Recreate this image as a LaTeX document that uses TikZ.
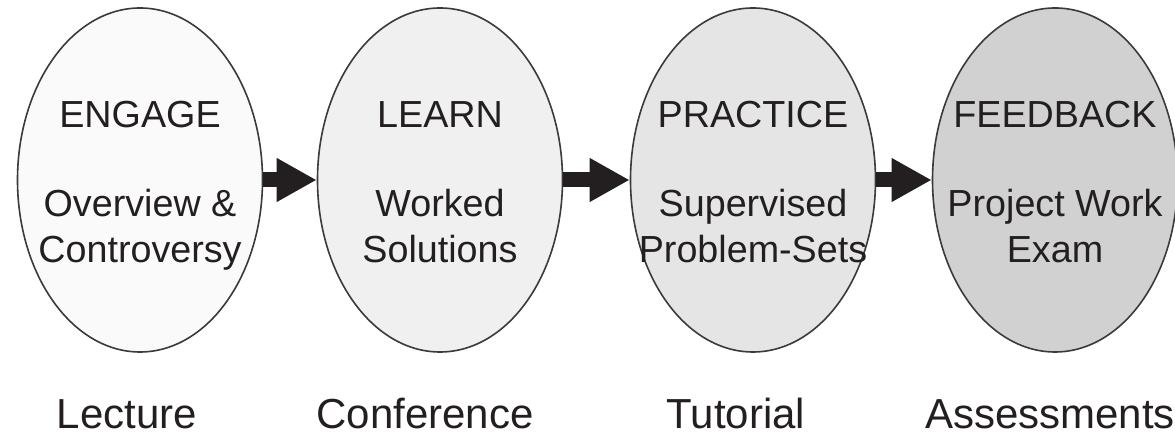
\documentclass[tikz,border=0pt]{standalone}
\usepackage{fontspec}
\setmainfont{Liberation Sans}
\usepackage{tikz}
\usetikzlibrary{arrows.meta,shapes.geometric,positioning}
\definecolor{inkgray}{HTML}{231F20}
\definecolor{rimgray}{HTML}{3A3A3A}

\begin{document}
\begin{tikzpicture}[
    x=1pt, y=1pt,
    stage style/.style={ellipse, draw=rimgray, line width=1.6pt, minimum width=245pt, minimum height=344pt, inner sep=0pt},
    head style/.style={anchor=base, text=inkgray, inner sep=0pt, font=\fontsize{37.7}{46}\selectfont},
    body style/.style={head style, align=center},
    place style/.style={anchor=base, text=inkgray, inner sep=0pt, font=\fontsize{42}{50}\selectfont},
    flow arrow/.style={draw=inkgray, line width=15pt, -{Triangle[length=40pt,width=41pt]}}
]
\useasboundingbox (0,0) rectangle (1175,438);
% the four stages
\node[stage style, fill=black!2] (engage) at (140,258) {};
\node[stage style, fill=black!6] (learn) at (440,258) {};
\node[stage style, fill=black!10] (practice) at (753,258) {};
\node[stage style, fill=black!18] (feedback) at (1055,258) {};

\node[head style] (engage-h) at ([yshift=52pt]engage.center) {ENGAGE};
\node[head style] (learn-h) at ([yshift=52pt]learn.center) {LEARN};
\node[head style] (practice-h) at ([yshift=52pt]practice.center) {PRACTICE};
\node[head style] (feedback-h) at ([yshift=52pt]feedback.center) {FEEDBACK};

% base of a two-line node is its last line
\node[body style] (engage-b) at ([yshift=-83pt]engage.center) {Overview \&\\Controversy};
\node[body style] (learn-b) at ([yshift=-83pt]learn.center) {Worked\\Solutions};
\node[body style] (practice-b) at ([yshift=-83pt]practice.center) {Supervised\\Problem-Sets};
\node[body style] (feedback-b) at ([yshift=-83pt]feedback.center) {Project Work\\Exam};

% where each stage happens
\node[place style] (lecture) at (127,9) {Lecture};
\node[place style] (conference) at (425,9) {Conference};
\node[place style] (tutorial) at (736,9) {Tutorial};
\node[place style] (assessments) at (1050,9) {Assessments};

\draw[flow arrow] (engage.east) -- (learn.west);
\draw[flow arrow] (learn.east) -- (practice.west);
\draw[flow arrow] (practice.east) -- (feedback.west);
\end{tikzpicture}
\end{document}
